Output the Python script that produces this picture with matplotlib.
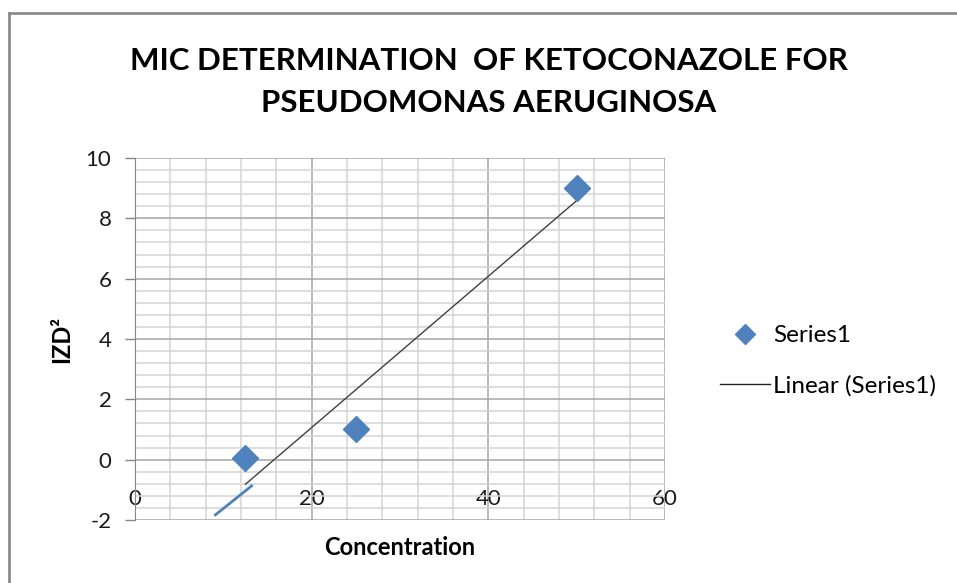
"""MIC determination of ketoconazole for Pseudomonas aeruginosa."""

import matplotlib
matplotlib.use("Agg")
import matplotlib.pyplot as plt
import numpy as np
from matplotlib.lines import Line2D
from matplotlib.ticker import MultipleLocator

# ── data ────────────────────────────────────────────────────────────────────
concentration = [12.5, 25, 50]
izd_sq = [0.05, 1.02, 9.02]
# odd blue stub Excel drew below the trendline
stub_x = [9.1, 13.2]
stub_y = [-1.83, -0.87]

x_ticks = [0, 20, 40, 60]
y_ticks = [-2, 0, 2, 4, 6, 8, 10]

BLUE = "#4F81BD"
plt.rcParams["font.family"] = ["Lato", "DejaVu Sans"]
plt.rcParams["axes.unicode_minus"] = False

fig = plt.figure(figsize=(9.57, 5.83), dpi=100)
ax = fig.add_axes([135 / 957, 1 - 520 / 583, 530 / 957, 362 / 583])

# gridlines
ax.set_xlim(0, 60)
ax.set_ylim(-2, 10)
ax.set_xticks(x_ticks)
ax.set_yticks(y_ticks)
ax.xaxis.set_minor_locator(MultipleLocator(4))
ax.yaxis.set_minor_locator(MultipleLocator(0.4))
ax.grid(which="major", color="#a6a6a6", linewidth=1.1)
ax.grid(which="minor", color="#d4d4d4", linewidth=1.1)
ax.set_axisbelow(True)

# points and trendline
ax.plot(concentration, izd_sq, linestyle="none", marker="D", markersize=13,
        color=BLUE, zorder=4)
slope, intercept = np.polyfit(concentration, izd_sq, 1)
tx = np.array([min(concentration), max(concentration)])
ax.plot(tx, slope * tx + intercept, color="#404040", linewidth=1, zorder=3)
ax.plot(stub_x, stub_y, color=BLUE, linewidth=2, zorder=3)

# axes styling: x axis crosses at y = 0
for side in ("top", "right"):
    ax.spines[side].set_visible(False)
ax.spines["bottom"].set_position(("data", 0))
ax.spines["bottom"].set_visible(False)
ax.spines["left"].set_color("#868686")
ax.tick_params(axis="x", which="both", length=0, pad=21, labelsize=16,
               labelcolor="#1a1a1a")
ax.tick_params(axis="y", which="major", length=7, width=1, color="#868686",
               pad=10, labelsize=16, labelcolor="#1a1a1a")
ax.tick_params(axis="y", which="minor", length=0)

ax.set_ylabel("IZD²", fontsize=17, fontweight="bold", labelpad=9)
ax.set_xlabel("Concentration", fontsize=17, fontweight="bold")
ax.xaxis.set_label_coords(0.5, -0.045)

fig.text(0.511, 1 - 82 / 583,
         "MIC DETERMINATION  OF KETOCONAZOLE FOR\nPSEUDOMONAS AERUGINOSA",
         ha="center", va="center", fontsize=22.5, fontweight="bold",
         linespacing=1.65)

handles = [
    Line2D([], [], linestyle="none", marker="D", markersize=10, color=BLUE),
    Line2D([], [], color="#202020", linewidth=1),
]
fig.legend(handles, ["Series1", "Linear (Series1)"], loc="center left",
           bbox_to_anchor=(720 / 957, 1 - 361 / 583), frameon=False,
           fontsize=17.5, handlelength=2.05, handletextpad=0.15,
           labelspacing=1.2, borderpad=0, borderaxespad=0)

# outer chart border (cut off at right and bottom)
fig.add_artist(Line2D([8.5 / 957, 8.5 / 957], [0, 1 - 13 / 583],
                      transform=fig.transFigure, color="#8c8c8c", linewidth=2))
fig.add_artist(Line2D([8.5 / 957, 1], [1 - 13 / 583, 1 - 13 / 583],
                      transform=fig.transFigure, color="#8c8c8c", linewidth=2))

fig.savefig("out.png", dpi=100)
